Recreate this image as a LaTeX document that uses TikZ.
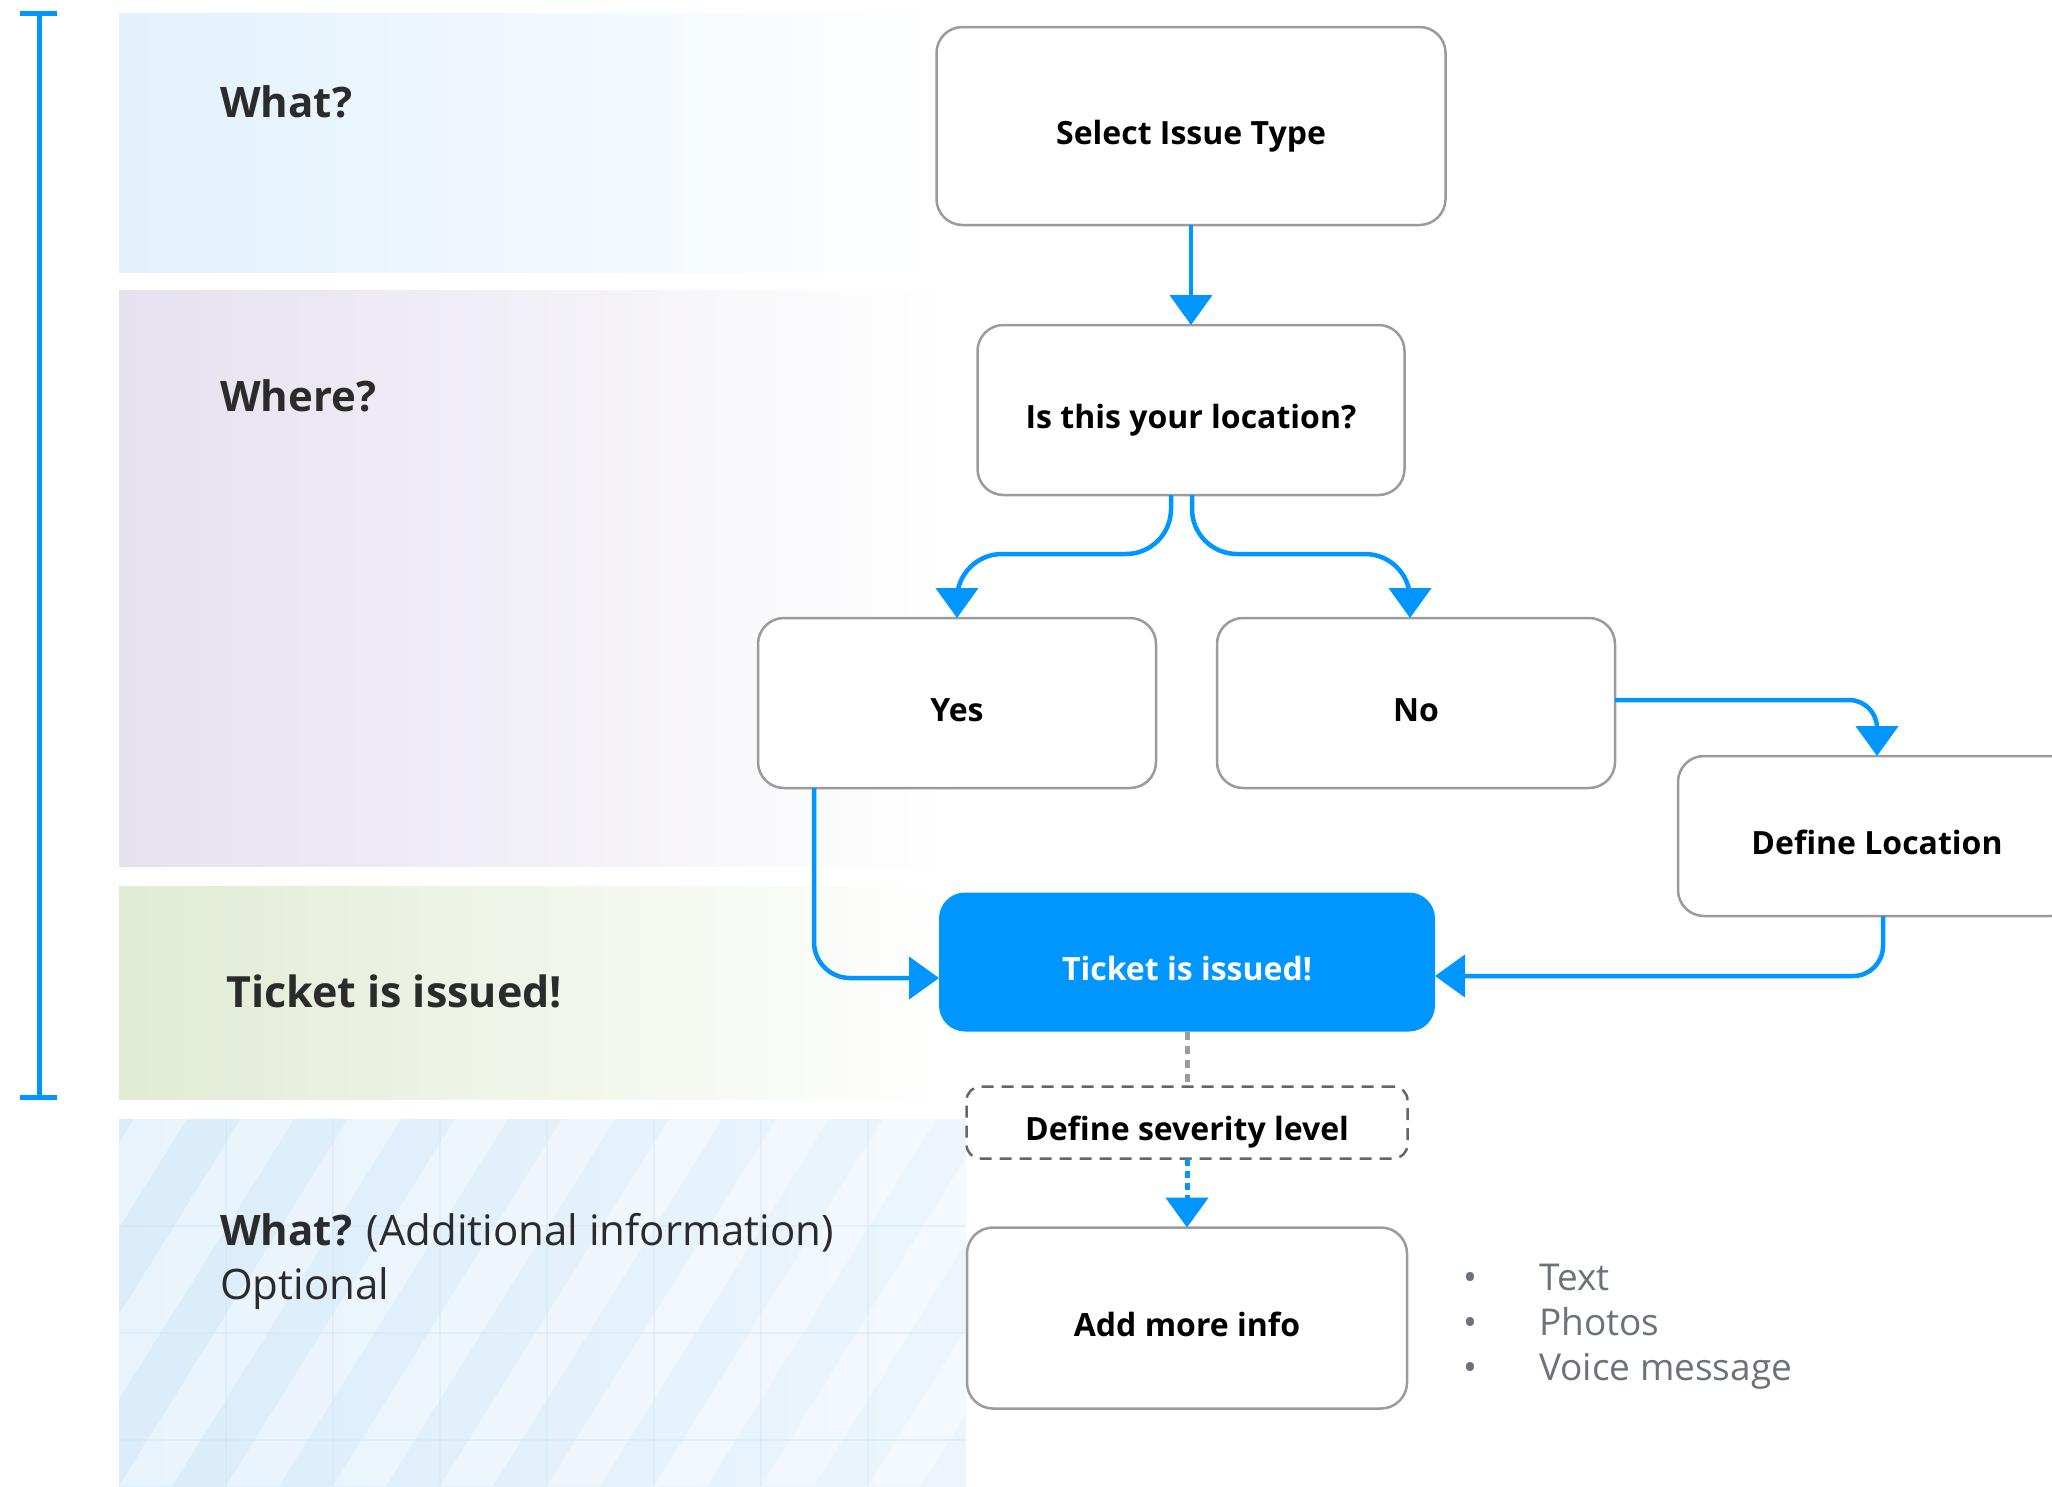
\documentclass[tikz,border=0pt]{standalone}
\usepackage{fontspec}
\setmainfont{Open Sans}
\usepackage{tikz}
\usetikzlibrary{arrows.meta,calc,positioning}
\definecolor{flowblue}{RGB}{0,150,255}
\definecolor{boxgray}{RGB}{155,155,155}
\definecolor{headgray}{RGB}{43,43,43}
\definecolor{listgray}{RGB}{108,114,124}
\definecolor{whatblue}{RGB}{226,241,252}
\definecolor{wherepurple}{RGB}{229,225,239}
\definecolor{ticketgreen}{RGB}{225,235,212}
\definecolor{extrablue}{RGB}{218,236,250}
\definecolor{gridblue}{RGB}{210,230,245}
\newdimen\hdim
\newdimen\wdim
\hdim=170pt
\wdim=398pt
\tikzstyle{element}=[
  draw=boxgray,
  fill=white,
  text=black,
  font={\fontsize{32}{40}\selectfont\bfseries},
  inner sep=0pt,
  minimum height=\hdim,
  minimum width=\wdim,
  outer sep=0pt,
  rectangle,
  rounded corners=26pt,
  text centered,
  text height=36pt,
  text depth=0pt,
  line width=2.5pt,
]
\tikzstyle{issued}=[
  element,
  draw=none,
  fill=flowblue,
  text=white,
  minimum height=139pt,
  minimum width=496pt,
]
\tikzstyle{optional}=[
  element,
  draw=black!60,
  dash pattern=on 12pt off 8pt,
  minimum height=72pt,
  minimum width=441pt,
  rounded corners=14pt,
]
\tikzstyle{arrow}=[
  draw=flowblue,
  line width=4.5pt,
]
\tikzstyle{greylink}=[
  draw=boxgray,
  line width=5pt,
  dash pattern=on 8pt off 6pt,
]
\tikzstyle{heading}=[
  anchor=base west,
  inner sep=0pt,
  text=headgray,
  font={\fontsize{42}{54}\selectfont},
]
\tikzstyle{listtext}=[
  anchor=base west,
  inner sep=0pt,
  text=listgray,
  font={\fontsize{37}{45}\selectfont},
  align=left,
]
\tikzstyle{gridline}=[
  draw=gridblue,
  line width=1.5pt,
]
\tikzset{
  x=1pt,
  y=-1pt,
  >={Triangle[width=42pt,length=30pt]},
}

\begin{document}
\begin{tikzpicture}
    \useasboundingbox (0,0) rectangle (2052,1486);
    \clip (0,0) rectangle (2052,1486);
    %% bands
    \shade [left color=whatblue, middle color=whatblue!65!white, right color=white]
      (119,13) rectangle (950,272);
    \shade [left color=wherepurple, middle color=wherepurple!65!white, right color=white]
      (119,290) rectangle (950,866);
    \shade [left color=ticketgreen, middle color=ticketgreen!65!white, right color=white]
      (119,886) rectangle (950,1099);
    \begin{scope}
      \clip (119,1119) rectangle (966,1486);
      \shade [left color=extrablue, right color=extrablue!50!white]
        (119,1119) rectangle (966,1486);
      \foreach \i in {0,...,11}
        \fill [white, opacity=.4] (-202+107*\i,1486) -- ++(53,0) -- ++(229,-367) -- ++(-53,0) -- cycle;
      \foreach \i in {1,...,7}
        \draw [gridline, opacity=.45] (119+107*\i,1119) -- ++(0,367);
      \foreach \j in {1,2,3}
        \draw [gridline, opacity=.45] (119,1119+107*\j) -- ++(847,0);
    \end{scope}
    %% bracket
    \draw [flowblue, line width=5pt] (20,13) -- (57,13) (39,13) -- (39,1097) (20,1097) -- (57,1097);
    %% band titles
    \node (what) [heading] at (220,117) {\bfseries What?};
    \node (where) [heading] at (220,411) {\bfseries Where?};
    \node (done) [heading, font={\fontsize{43}{54}\selectfont}] at (226,1007) {\bfseries Ticket is issued!};
    \node (extra) [heading, align=left] at (220,1299) {\textbf{What?} (Additional information)\\Optional};
    %% flow
    \node (select) [element, minimum width=509pt, minimum height=198pt] at (1191,126) {Select Issue Type};
    \node (isloc) [element, minimum width=427pt, below=100pt of select] {Is this your location?};
    \node (yes) [element] at (957,703) {Yes};
    \node (no) [element, right=61pt of yes] {No};
    \node (defloc) [element, minimum height=160pt] at (1877,836) {Define Location};
    \node (ticket) [issued] at (1187,962) {Ticket is issued!};
    \node (severity) [optional, below=55pt of ticket] {Define severity level};
    \node (addinfo) [element, minimum width=440pt, minimum height=181pt, below=69pt of severity] {Add more info};
    \node (media) [listtext] at (1463,1380)
      {\makebox[76pt][l]{\textbullet}Text\\\makebox[76pt][l]{\textbullet}Photos\\\makebox[76pt][l]{\textbullet}Voice message};
    %%
    \draw [->, arrow] (select) -- (isloc);
    \draw [->, arrow, rounded corners=45pt] ($(isloc.south)+(-20,0)$)
      |- ($(yes.north)+(0,-64)$) -- (yes.north);
    \draw [->, arrow, rounded corners=45pt] ($(isloc.south)+(1,0)$)
      |- ($(no.north)+(-6,-64)$) -- ($(no.north)+(-6,0)$);
    \draw [->, arrow, rounded corners=28pt] ($(no.east)+(0,-3)$) -| (defloc.north);
    \draw [->, arrow, rounded corners=36pt] ($(yes.south)+(-143,0)$) |- ($(ticket.west)+(0,16)$);
    \draw [->, arrow, rounded corners=30pt] ($(defloc.south)+(6,0)$) |- ($(ticket.east)+(0,14)$);
    \draw [greylink] (ticket) -- (severity);
    \draw [->, arrow, line width=5pt, dash pattern=on 7pt off 5pt] (severity) -- (addinfo);
\end{tikzpicture}
\end{document}
